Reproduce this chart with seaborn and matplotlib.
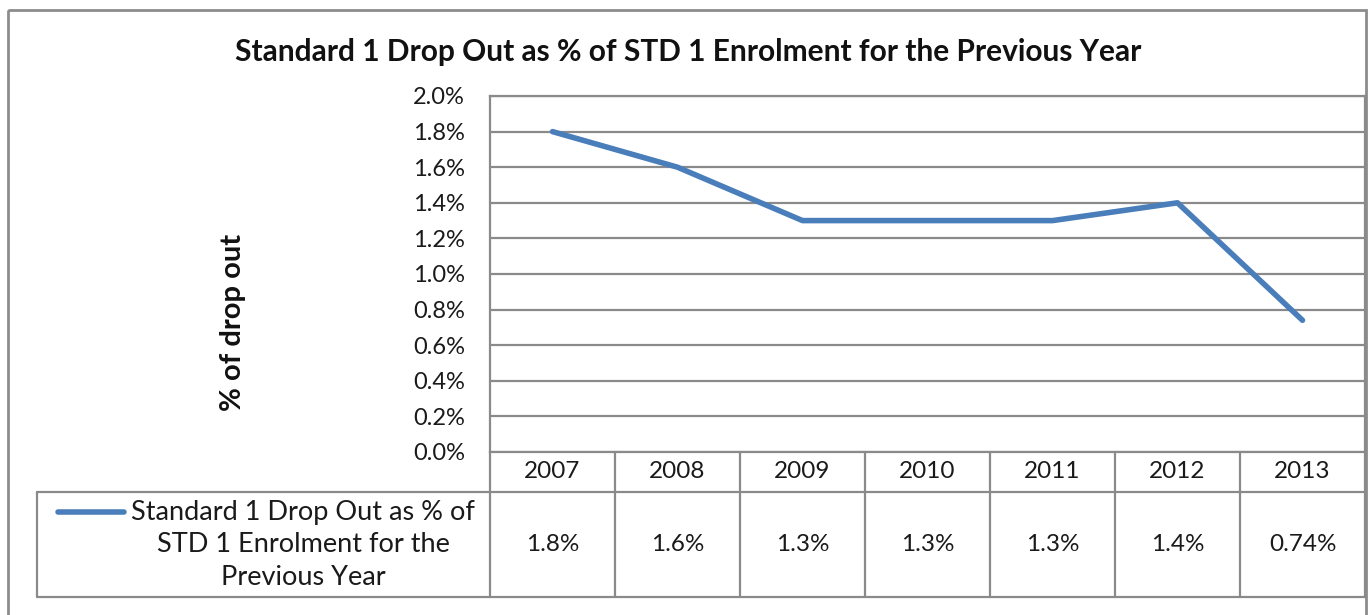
import matplotlib
matplotlib.use("Agg")
import matplotlib.pyplot as plt
import seaborn as sns
import numpy as np
import pandas as pd
from matplotlib.ticker import FuncFormatter, MultipleLocator
from matplotlib.lines import Line2D
from matplotlib.patches import Rectangle

years = ["2007", "2008", "2009", "2010", "2011", "2012", "2013"]
dropout_pct = [1.8, 1.6, 1.3, 1.3, 1.3, 1.4, 0.74]
series_name = "Standard 1 Drop Out as % of\nSTD 1 Enrolment for the\nPrevious Year"
title = "Standard 1 Drop Out as % of STD 1 Enrolment for the Previous Year"
ylabel = "% of drop out"
value_labels = [f"{v:g}%" for v in dropout_pct]

sns.set_theme(style="white")
plt.rcParams['font.family'] = ['Lato', 'DejaVu Sans']

W, H = 1369, 615
fig = plt.figure(figsize=(W / 100, H / 100), dpi=100)

BLUE = "#4a7ebb"
GRID = "#8a8a8a"
TXT = "#1a1a1a"

# overlay axes in pixel coordinates for frame & table
ov = fig.add_axes([0, 0, 1, 1], zorder=0)
ov.set_xlim(0, W)
ov.set_ylim(H, 0)
ov.axis("off")

px_l, px_r, px_t, px_b = 490, 1365, 96, 452
ax = fig.add_axes([px_l / W, 1 - px_b / H, (px_r - px_l) / W, (px_b - px_t) / H], zorder=1)
ax.patch.set_alpha(0)

df = pd.DataFrame({"pos": np.arange(len(years)), "val": dropout_pct})
sns.lineplot(data=df, x="pos", y="val", ax=ax, color=BLUE, linewidth=4.0,
             solid_capstyle="round", solid_joinstyle="round")
ax.set_xlim(-0.5, len(years) - 0.5)
ax.set_ylim(0, 2.0)
ax.yaxis.set_major_locator(MultipleLocator(0.2))
ax.yaxis.set_major_formatter(FuncFormatter(lambda v, p: f"{v:.1f}%"))
ax.set_xticks([])
ax.set_xlabel("")
ax.set_ylabel("")
ax.grid(axis="y", color=GRID, linewidth=1.6)
ax.set_axisbelow(True)
for s in ax.spines.values():
    s.set_color(GRID)
    s.set_linewidth(1.6)
ax.tick_params(axis="y", labelsize=17, pad=18, length=0, colors=TXT)

# outer frame
ov.add_patch(Rectangle((8, 10), 1358, 620, fill=False, edgecolor="#8c8c8c", linewidth=2))

# title & y label
ov.text(688, 52, title, ha="center", va="center", fontsize=21.5, fontweight="bold", color="#111111")
ov.text(233, 322, ylabel, ha="center", va="center", rotation=90, fontsize=21, fontweight="bold", color="#111111")

# data table
col_w = (px_r - px_l) / len(years)
r1_t, r1_b, r2_b = 452, 492, 597
lw = 1.6
for i in range(len(years) + 1):
    x = px_l + i * col_w
    ov.add_line(Line2D([x, x], [r1_t, r2_b], color=GRID, linewidth=lw))
ov.add_line(Line2D([37, px_r], [r1_b, r1_b], color=GRID, linewidth=lw))
ov.add_line(Line2D([37, px_r], [r2_b, r2_b], color=GRID, linewidth=lw))
ov.add_line(Line2D([37, 37], [r1_b, r2_b], color=GRID, linewidth=lw))
for i, (yr, lab) in enumerate(zip(years, value_labels)):
    cx = px_l + (i + 0.5) * col_w
    ov.text(cx, (r1_t + r1_b) / 2, yr, ha="center", va="center", fontsize=17.5, color=TXT)
    ov.text(cx, (r1_b + r2_b) / 2, lab, ha="center", va="center", fontsize=17.5, color=TXT)

# legend key in the table
ov.add_line(Line2D([58, 124], [512, 512], color=BLUE, linewidth=4.0, solid_capstyle="round"))
ov.text(303, 545, series_name, ha="center", va="center", fontsize=19.5, color=TXT,
        linespacing=1.38)

fig.savefig("out.png", dpi=100, facecolor="white")
